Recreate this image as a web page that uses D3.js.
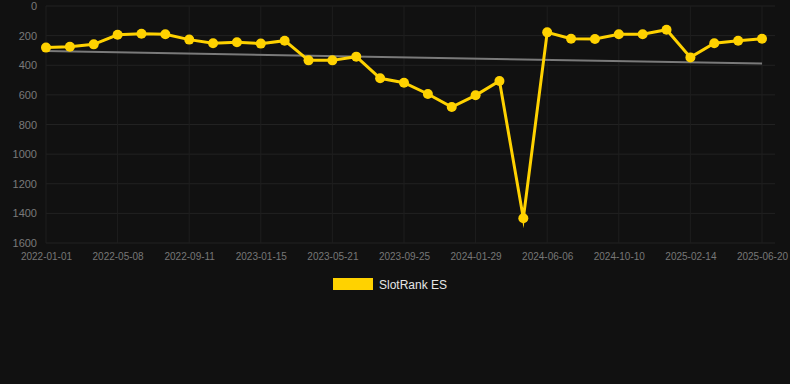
<!DOCTYPE html>
<html><head><meta charset="utf-8">
<script src="https://cdn.jsdelivr.net/npm/d3@7"></script>
<style>
html,body{margin:0;padding:0;background:#111111;}
svg{display:block;}
text{font-family:"Liberation Sans",Arial,sans-serif;}
</style></head>
<body>
<script>
const dates = ["2022-01-01","2022-02-12","2022-03-26","2022-05-08","2022-06-19","2022-07-31","2022-09-11","2022-10-23","2022-12-04","2023-01-15","2023-02-26","2023-04-09","2023-05-21","2023-07-02","2023-08-13","2023-09-25","2023-11-06","2023-12-18","2024-01-29","2024-03-11","2024-04-23","2024-06-06","2024-07-18","2024-08-29","2024-10-10","2024-11-21","2025-01-02","2025-02-14","2025-03-28","2025-05-09","2025-06-20"];
const ranks = [281,275,259,194,187,191,227,252,245,254,234,367,367,342,488,518,594,682,603,506,1433,178,221,223,191,191,160,347,252,234,221];
const trendValues = [304,389];
const yTicks = [0,200,400,600,800,1000,1200,1400,1600];
const seriesName = "SlotRank ES";

(function(){
const W=790,H=384;
const mL=46,mR=762,mT=6,mB=243;
const svg=d3.select("body").append("svg").attr("width",W).attr("height",H);
svg.append("rect").attr("width",W).attr("height",H).attr("fill","#111111");

const x=d3.scalePoint().domain(dates).range([mL,mR]);
const y=d3.scaleLinear().domain([0,1600]).range([mT,mB]);

svg.append("g").selectAll("line").data(yTicks).join("line")
 .attr("x1",mL).attr("x2",775).attr("y1",d=>y(d)).attr("y2",d=>y(d))
 .attr("stroke","#222222").attr("stroke-width",1);
const labeled=dates.filter((d,i)=>i%3===0);
svg.append("g").selectAll("line").data(labeled).join("line")
 .attr("x1",d=>x(d)).attr("x2",d=>x(d)).attr("y1",mT).attr("y2",mB)
 .attr("stroke","#1e1e1e").attr("stroke-width",1);

const ya=svg.append("g").attr("transform",`translate(${mL-9},0)`)
 .call(d3.axisLeft(y).tickValues(yTicks).tickFormat(d3.format("d")).tickSize(0).tickPadding(0));
ya.select(".domain").remove();
ya.selectAll("text").attr("fill","#7a7a7a").style("font-size","11px").style("font-family","Liberation Sans, Arial, sans-serif");

const xa=svg.append("g").attr("transform",`translate(0,${mB+10})`)
 .call(d3.axisBottom(x).tickValues(labeled).tickSize(0).tickPadding(0));
xa.select(".domain").remove();
xa.selectAll("text").attr("fill","#777777").style("font-size","10px").attr("dy","0.71em").style("font-family","Liberation Sans, Arial, sans-serif");

svg.append("line")
 .attr("x1",x(dates[0])).attr("x2",x(dates[dates.length-1]))
 .attr("y1",y(trendValues[0])).attr("y2",y(trendValues[1]))
 .attr("stroke","#7a7a7a").attr("stroke-width",2);

const data=dates.map((d,i)=>({d,v:ranks[i]}));
svg.append("path").datum(data)
 .attr("d",d3.line().x(p=>x(p.d)).y(p=>y(p.v)))
 .attr("fill","none").attr("stroke","#FFD200").attr("stroke-width",3)
 .attr("stroke-linejoin","miter").attr("stroke-miterlimit",10);
svg.append("g").selectAll("circle").data(data).join("circle")
 .attr("cx",p=>x(p.d)).attr("cy",p=>y(p.v)).attr("r",5).attr("fill","#FFD200");

svg.append("rect").attr("x",333).attr("y",278).attr("width",40).attr("height",12).attr("fill","#FFD200");
svg.append("text").attr("x",379).attr("y",288.5).text(seriesName)
 .attr("fill","#e6e6e6").style("font-size","12px");
})();
</script>
</body></html>
